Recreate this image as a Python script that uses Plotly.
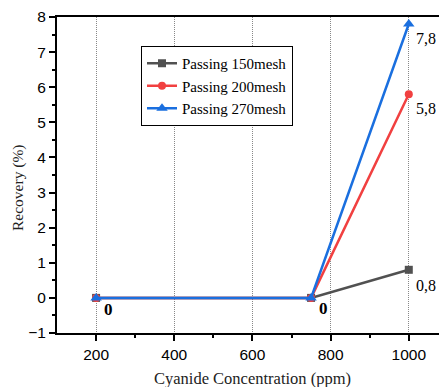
import plotly.graph_objects as go

conc = [200, 750, 1000]
mesh150 = [0, 0, 0.8]
mesh200 = [0, 0, 5.8]
mesh270 = [0, 0, 7.8]
names = ["Passing 150mesh", "Passing 200mesh", "Passing 270mesh"]
colors = ["#515151", "#F14040", "#1A6FDF"]
symbols = ["square", "circle", "triangle-up"]
xticks = [200, 400, 600, 800, 1000]
yticks = [-1, 0, 1, 2, 3, 4, 5, 6, 7, 8]

W, H = 439, 387
L, T, B = 57, 17, 54
PW, PH = W - L, H - T - B
fig = go.Figure()
for ys, n, c, s in zip([mesh150, mesh200, mesh270], names, colors, symbols):
    fig.add_trace(go.Scatter(x=conc, y=ys, name=n, mode="lines+markers",
                             line=dict(color=c, width=2.5),
                             marker=dict(symbol=s, size=8 if s != "triangle-up" else 10, color=c)))

serif = "Liberation Serif, Times New Roman, serif"
sans = "Liberation Sans, Arial, sans-serif"
px_per = (408.7 - 96) / 800
xmax = 100 + PW / px_per

anns = [
    dict(x=1000, y=7.8, text="7,8", xshift=5, yshift=-14, size=16, bold=False),
    dict(x=1000, y=5.8, text="5,8", xshift=5, yshift=-14, size=16, bold=False),
    dict(x=1000, y=0.8, text="0,8", xshift=5, yshift=-16, size=16, bold=False),
    dict(x=200, y=0, text="0", xshift=6, yshift=-12, size=17, bold=True),
    dict(x=750, y=0, text="0", xshift=6, yshift=-11, size=17, bold=True),
]
for a in anns:
    fig.add_annotation(x=a["x"], y=a["y"], text=("<b>%s</b>" % a["text"]) if a["bold"] else a["text"],
                       showarrow=False, xanchor="left", yanchor="middle",
                       xshift=a["xshift"], yshift=a["yshift"],
                       font=dict(family=serif, size=a["size"], color="black"))

fig.add_annotation(x=(252 - L) / PW, y=-(378 - (H - B)) / PH, xref="paper", yref="paper",
                   text="Cyanide Concentration (ppm)", showarrow=False,
                   xanchor="center", yanchor="middle",
                   font=dict(family=serif, size=16.5, color="#222"))
fig.add_annotation(x=-(57 - 18) / PW, y=(333 - 188) / PH, xref="paper", yref="paper",
                   text="Recovery (%)", showarrow=False, textangle=-90,
                   xanchor="center", yanchor="middle",
                   font=dict(family=serif, size=15.5, color="#222"))

fig.update_layout(
    width=W, height=H,
    margin=dict(l=L, r=0, t=T, b=B, pad=0, autoexpand=False),
    paper_bgcolor="white", plot_bgcolor="white",
    showlegend=True,
    legend=dict(x=(141 - L) / PW, y=1 - (46 - T) / PH, xanchor="left", yanchor="top",
                bordercolor="black", borderwidth=1, bgcolor="white",
                font=dict(family=serif, size=15, color="black"),
                tracegroupgap=0, itemwidth=30),
    xaxis=dict(range=[100, xmax], tickvals=xticks, ticks="outside", ticklen=6, tickwidth=2,
               tickcolor="black", showline=True, linecolor="black", linewidth=2, mirror=True,
               showgrid=True, gridcolor="#888", griddash="1px,1px", gridwidth=1, zeroline=False,
               automargin=False,
               tickfont=dict(family=sans, size=15.5, color="black"),
               minor=dict(tickvals=[300, 500, 700, 900], ticks="outside", ticklen=3, tickwidth=2,
                          tickcolor="black", showgrid=False)),
    yaxis=dict(range=[-1, 8], tickvals=yticks, ticks="outside", ticklen=6, tickwidth=2,
               tickcolor="black", showline=True, linecolor="black", linewidth=2, mirror=False,
               showgrid=False, zeroline=False, automargin=False,
               tickfont=dict(family=sans, size=15.5, color="black"),
               minor=dict(dtick=0.5, ticks="outside", ticklen=3, tickwidth=2,
                          tickcolor="black", showgrid=False)),
)
fig.write_html("out.html", config={"displayModeBar": False},
               post_script="document.body.style.margin='0';document.body.style.overflow='hidden';")
